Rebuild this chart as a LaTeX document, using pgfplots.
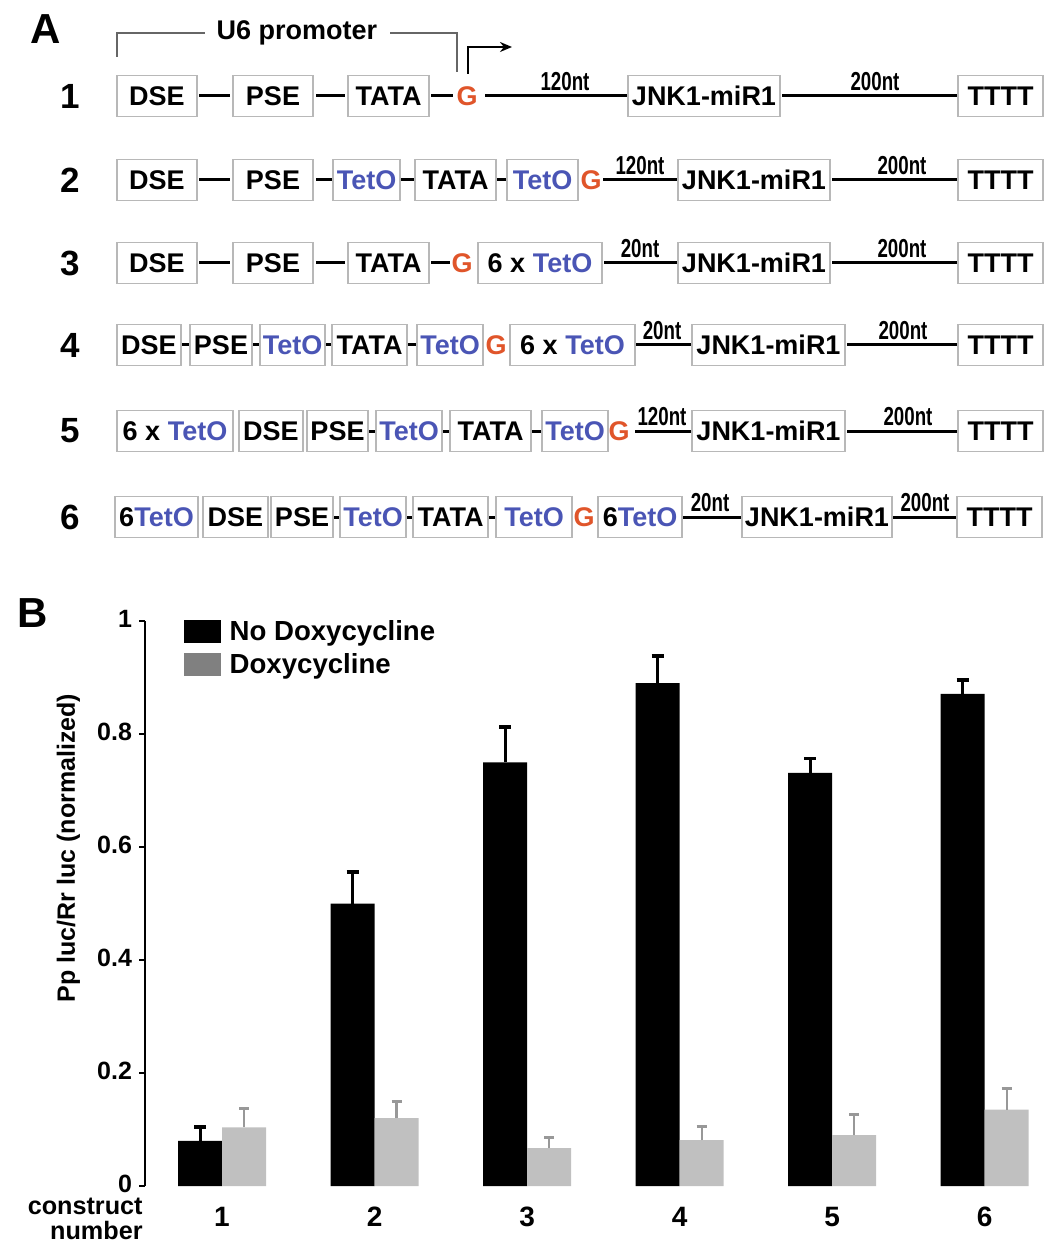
\documentclass[border=0pt]{standalone}
\usepackage{pgfplots}
\pgfplotsset{compat=1.18}
\usepackage{fontspec}
\setmainfont{Liberation Sans}
\usetikzlibrary{arrows.meta}
\definecolor{tetblue}{HTML}{4A55B5}
\definecolor{gorange}{HTML}{E0552A}
\definecolor{boxgray}{HTML}{B8B8B8}
\definecolor{barg}{HTML}{C0C0C0}
\definecolor{leggray}{HTML}{808080}
\definecolor{errgray}{HTML}{989898}
\tikzset{
  bx/.style={draw=boxgray, line width=0.7pt, fill=white},
  txt/.style={font=\bfseries\fontsize{13.5}{15}\selectfont, inner sep=0pt},
  ln/.style={line width=1.5pt, black},
  nt/.style={font=\bfseries\fontsize{13}{14}\selectfont, inner sep=0pt, anchor=south, xscale=0.72},
  rownum/.style={font=\bfseries\fontsize{17.5}{19}\selectfont, inner sep=0pt},
}
\newcommand\Bx[4]{\draw[bx] (#1,#3-20.5) rectangle (#2,#3+20.5); \node[txt] at ({(#1+#2)/2},#3) {#4};}
\newcommand\Ln[3]{\draw[ln] (#1,#3) -- (#2,#3);}
\newcommand\Nt[3]{\node[nt] at (#1,#2-5) {#3};}
\newcommand\Gn[2]{\node[txt,text=gorange] at (#1,#2) {G};}
\newcommand\T{\textcolor{tetblue}{TetO}}
\begin{document}
\begin{tikzpicture}[x=0.5pt,y=-0.5pt]
\useasboundingbox (0,0) rectangle (1050,1245);
% ---------- Panel A ----------
\node[font=\bfseries\fontsize{21}{23}\selectfont, inner sep=0pt] at (46,29) {A};
\draw[gray!80!black, line width=0.9pt] (117,57) -- (117,33) -- (205,33);
\draw[gray!80!black, line width=0.9pt] (390,33) -- (457,33) -- (457,72);
\node[txt] at (297,33) {U6 promoter};
\draw[line width=1.1pt, -{Stealth[length=6pt,width=5pt]}] (468,74) -- (468,47) -- (512,47);
% row 1
\def\yy{96}
\node[rownum] at (70,\yy) {1};
\Bx{117}{197}{\yy}{DSE}\Ln{199}{230}{\yy}
\Bx{233}{313}{\yy}{PSE}\Ln{316}{345}{\yy}
\Bx{348}{429}{\yy}{TATA}\Ln{431}{453}{\yy}
\Gn{467}{\yy}\Ln{485}{628}{\yy}\Nt{565}{\yy}{120nt}
\Bx{628}{780}{\yy}{JNK1-miR1}\Ln{782}{958}{\yy}\Nt{875}{\yy}{200nt}
\Bx{958}{1043}{\yy}{TTTT}
% row 2
\def\yy{180}
\node[rownum] at (70,\yy) {2};
\Bx{117}{197}{\yy}{DSE}\Ln{199}{230}{\yy}
\Bx{233}{313}{\yy}{PSE}\Ln{316}{332}{\yy}
\Bx{333}{400}{\yy}{\T}\Ln{401}{414}{\yy}
\Bx{415}{496}{\yy}{TATA}\Ln{497}{506}{\yy}
\Bx{507}{578}{\yy}{\T}
\Gn{591}{\yy}\Ln{603}{678}{\yy}\Nt{640}{\yy}{120nt}
\Bx{678}{830}{\yy}{JNK1-miR1}\Ln{832}{958}{\yy}\Nt{902}{\yy}{200nt}
\Bx{958}{1043}{\yy}{TTTT}
% row 3
\def\yy{263}
\node[rownum] at (70,\yy) {3};
\Bx{117}{197}{\yy}{DSE}\Ln{199}{230}{\yy}
\Bx{233}{313}{\yy}{PSE}\Ln{316}{345}{\yy}
\Bx{348}{429}{\yy}{TATA}\Ln{431}{450}{\yy}
\Gn{462}{\yy}
\Bx{478}{602}{\yy}{6 x \T}\Ln{604}{678}{\yy}\Nt{640}{\yy}{20nt}
\Bx{678}{830}{\yy}{JNK1-miR1}\Ln{832}{958}{\yy}\Nt{902}{\yy}{200nt}
\Bx{958}{1043}{\yy}{TTTT}
% row 4
\def\yy{345}
\node[rownum] at (70,\yy) {4};
\Bx{117}{181}{\yy}{DSE}\Ln{182}{189}{\yy}
\Bx{190}{252}{\yy}{PSE}\Ln{253}{259}{\yy}
\Bx{260}{325}{\yy}{\T}\Ln{326}{331}{\yy}
\Bx{332}{407}{\yy}{TATA}\Ln{408}{416}{\yy}
\Bx{417}{483}{\yy}{\T}
\Gn{496}{\yy}
\Bx{510}{635}{\yy}{6 x \T}\Ln{636}{692}{\yy}\Nt{662}{\yy}{20nt}
\Bx{692}{845}{\yy}{JNK1-miR1}\Ln{847}{958}{\yy}\Nt{903}{\yy}{200nt}
\Bx{958}{1043}{\yy}{TTTT}
% row 5
\def\yy{431}
\node[rownum] at (70,\yy) {5};
\Bx{117}{233}{\yy}{6 x \T}
\Bx{239}{303}{\yy}{DSE}
\Bx{307}{368}{\yy}{PSE}\Ln{369}{375}{\yy}
\Bx{376}{442}{\yy}{\T}\Ln{443}{449}{\yy}
\Bx{450}{531}{\yy}{TATA}\Ln{532}{541}{\yy}
\Bx{542}{608}{\yy}{\T}
\Gn{619}{\yy}\Ln{635}{692}{\yy}\Nt{662}{\yy}{120nt}
\Bx{692}{845}{\yy}{JNK1-miR1}\Ln{847}{958}{\yy}\Nt{908}{\yy}{200nt}
\Bx{958}{1043}{\yy}{TTTT}
% row 6
\def\yy{517}
\node[rownum] at (70,\yy) {6};
\Bx{115}{198}{\yy}{6\T}
\Bx{203}{268}{\yy}{DSE}
\Bx{271}{333}{\yy}{PSE}\Ln{334}{339}{\yy}
\Bx{340}{406}{\yy}{\T}\Ln{407}{412}{\yy}
\Bx{413}{488}{\yy}{TATA}\Ln{489}{495}{\yy}
\Bx{496}{572}{\yy}{\T}
\Gn{584}{\yy}
\Bx{598}{682}{\yy}{6\T}\Ln{683}{742}{\yy}\Nt{710}{\yy}{20nt}
\Bx{742}{892}{\yy}{JNK1-miR1}\Ln{893}{957}{\yy}\Nt{925}{\yy}{200nt}
\Bx{957}{1042}{\yy}{TTTT}
% ---------- Panel B ----------
\node[font=\bfseries\fontsize{21}{23}\selectfont, inner sep=0pt] at (33,613) {B};
\node[font=\bfseries\fontsize{12.6}{12.6}\selectfont, align=right, anchor=east, inner sep=0pt] at (143,1219) {construct\\number};
\begin{axis}[
  at={(72.5pt,-593pt)}, anchor=south west,
  scale only axis, width=445pt, height=282.5pt,
  xmin=0.495, xmax=6.33, ymin=0, ymax=1,
  ybar=0pt, bar width=22pt,
  axis y line*=left, axis x line*=bottom,
  x axis line style={draw=none},
  y axis line style={line width=1.4pt},
  xtick={1,2,3,4,5,6}, ytick={0,0.2,0.4,0.6,0.8,1},
  major x tick style={draw=none},
  major y tick style={line width=1.2pt, black},
  tick align=outside, major tick length=3pt,
  /pgf/number format/assume math mode=true,
  yticklabel style={font=\bfseries\fontsize{12.5}{14}\selectfont, yshift=1.2pt},
  xticklabel style={font=\bfseries\fontsize{14}{15}\selectfont, yshift=-4pt},
  ylabel={Pp luc/Rr luc (normalized)},
  ylabel style={font=\bfseries\fontsize{12.5}{14}\selectfont, at={(axis description cs:-0.086,0.598)}, anchor=center},
  legend style={draw=none, fill=none, at={(axis description cs:0.043,1.006)}, anchor=north west,
    font=\bfseries\fontsize{13.8}{15}\selectfont, inner sep=0pt, row sep=3pt,
    nodes={inner sep=1pt},
    /tikz/every odd column/.append style={column sep=3.5pt}},
  legend cell align=left,
]
\addplot[fill=black, draw=none,
  legend image code/.code={\fill[black] (0pt,-5.75pt) rectangle (18.5pt,5.75pt);},
  error bars/.cd, y dir=plus, y explicit,
  error bar style={black, line width=1.5pt},
  error mark options={black, rotate=90, mark size=3pt, line width=1.8pt}]
coordinates {
(1,0.080) +- (0,0.024)
(2,0.500) +- (0,0.056)
(3,0.750) +- (0,0.062)
(4,0.890) +- (0,0.048)
(5,0.731) +- (0,0.026)
(6,0.871) +- (0,0.025)
};
\addlegendentry{No Doxycycline}
\addplot[fill=barg, draw=none,
  legend image code/.code={\fill[leggray] (0pt,-5.75pt) rectangle (18.5pt,5.75pt);},
  error bars/.cd, y dir=plus, y explicit,
  error bar style={errgray, line width=1.1pt},
  error mark options={errgray, rotate=90, mark size=2.5pt, line width=1.5pt}]
coordinates {
(1,0.104) +- (0,0.034)
(2,0.120) +- (0,0.030)
(3,0.067) +- (0,0.018)
(4,0.081) +- (0,0.025)
(5,0.090) +- (0,0.037)
(6,0.135) +- (0,0.037)
};
\addlegendentry{Doxycycline}
\end{axis}
\end{tikzpicture}
\end{document}
